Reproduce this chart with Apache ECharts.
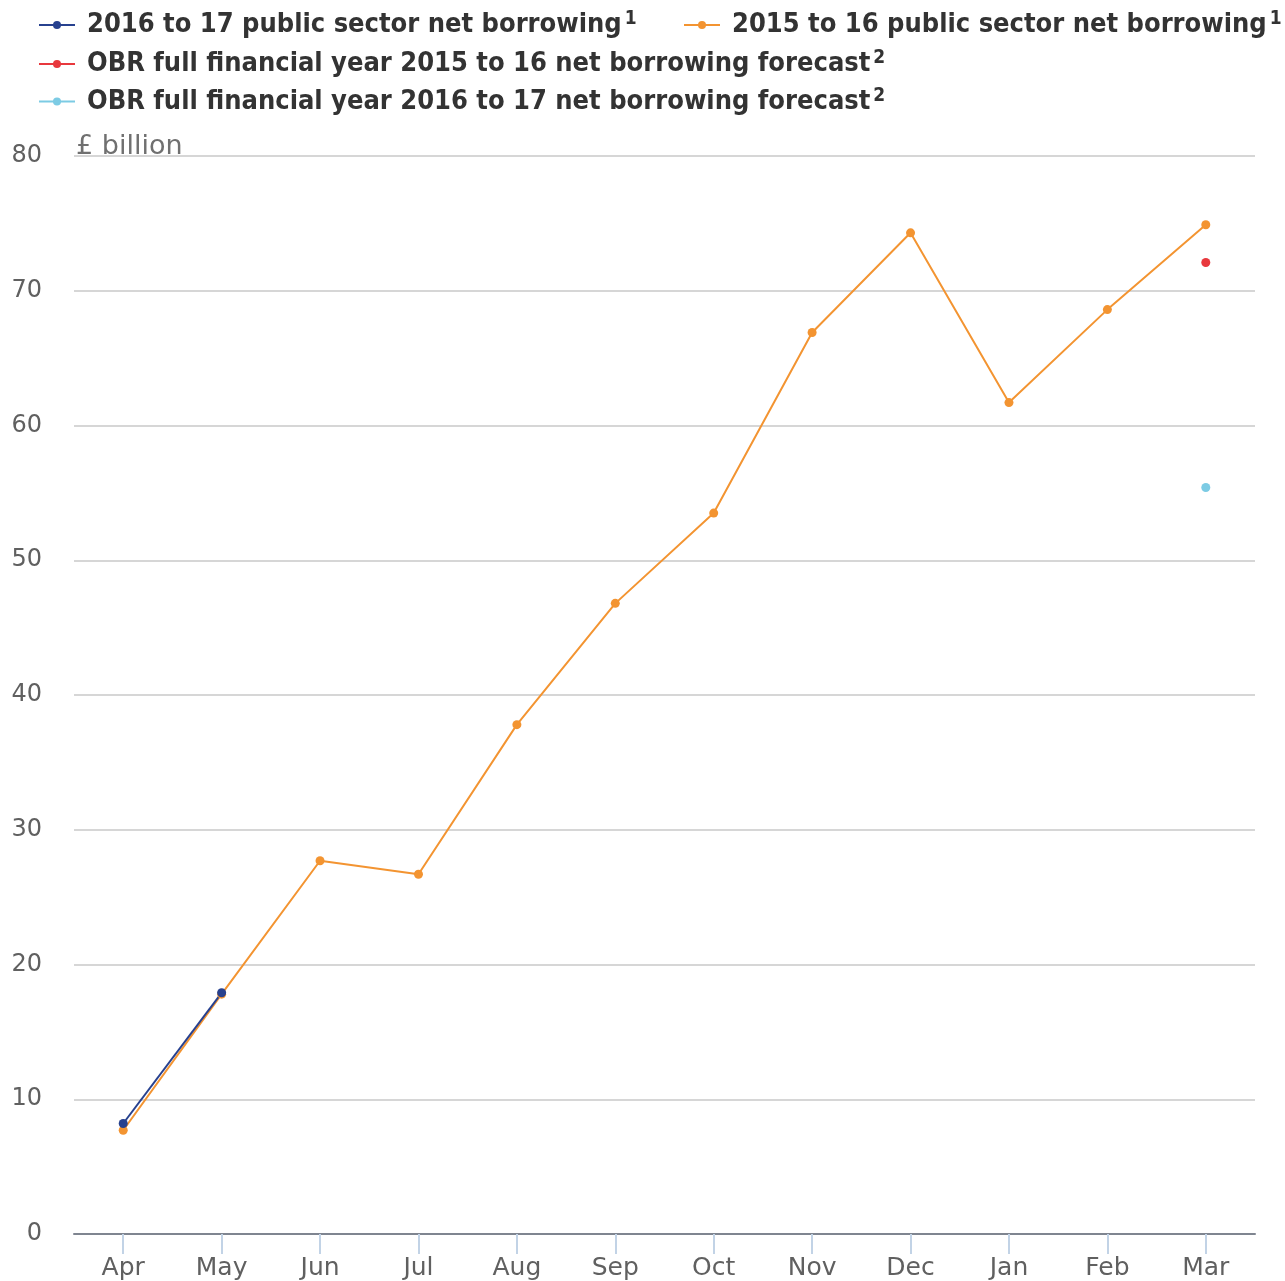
<!DOCTYPE html>
<html>
<head>
<meta charset="utf-8">
<script src="https://cdn.jsdelivr.net/npm/echarts@6/dist/echarts.min.js"></script>
<style>
  html, body { margin: 0; padding: 0; background: #fff; }
  #chart { width: 1285px; height: 1281px; }
</style>
</head>
<body>
<div id="chart"></div>
<script>
const months = ['Apr', 'May', 'Jun', 'Jul', 'Aug', 'Sep', 'Oct', 'Nov', 'Dec', 'Jan', 'Feb', 'Mar'];

// £ billion, cumulative
const borrowing1617 = [8.2, 17.9, null, null, null, null, null, null, null, null, null, null];
const borrowing1516 = [7.7, 17.8, 27.7, 26.7, 37.8, 46.8, 53.5, 66.9, 74.3, 61.7, 68.6, 74.9];
const obrForecast1516 = [null, null, null, null, null, null, null, null, null, null, null, 72.1];
const obrForecast1617 = [null, null, null, null, null, null, null, null, null, null, null, 55.4];

const names = [
  '2016 to 17 public sector net borrowing',
  '2015 to 16 public sector net borrowing',
  'OBR full financial year 2015 to 16 net borrowing forecast',
  'OBR full financial year 2016 to 17 net borrowing forecast'
];
const notes = { [names[0]]: '1', [names[1]]: '1', [names[2]]: '2', [names[3]]: '2' };
const colors = ['#27418f', '#f39431', '#e8383d', '#7ccbe4'];

const chart = echarts.init(document.getElementById('chart'));

function lineSeries(name, data, color) {
  return {
    name: name,
    type: 'line',
    data: data,
    color: color,
    symbol: 'circle',
    symbolSize: 9,
    showSymbol: true,
    lineStyle: { width: 2 },
    connectNulls: false
  };
}

// one legend block per position, so rows break like the original
function legendBlock(items, left, top) {
  return {
    data: items,
    left: left,
    top: top,
    orient: 'vertical',
    padding: 0,
    itemGap: 9,
    itemWidth: 36,
    itemHeight: 10,
    lineStyle: { width: 2 },
    formatter: (name) => `{t|${name}}{s|${notes[name]}}`,
    textStyle: {
      rich: {
        t: { fontFamily: 'DejaVu Sans Condensed', fontWeight: 'bold', fontSize: 27, color: '#333', lineHeight: 30, padding: [0, 0, 0, 7] },
        s: { fontFamily: 'DejaVu Sans Condensed', fontWeight: 'bold', fontSize: 19, color: '#333', verticalAlign: 'top', lineHeight: 16, padding: [0, 0, 0, 3] }
      }
    }
  };
}

chart.setOption({
  animation: false,
  textStyle: { fontFamily: 'DejaVu Sans' },
  legend: [
    legendBlock([names[0]], 38, 10),
    legendBlock([names[1]], 683, 10),
    legendBlock([names[2], names[3]], 38, 49)
  ],
  grid: { left: 74, right: 30, top: 156, bottom: 46 },
  xAxis: {
    type: 'category',
    data: months,
    boundaryGap: true,
    axisLine: { lineStyle: { color: '#7f8590', width: 2 } },
    axisTick: { show: true, alignWithLabel: true, length: 20, lineStyle: { color: '#c2d3e6', width: 2 } },
    axisLabel: { fontSize: 25, color: '#606060', margin: 22 }
  },
  yAxis: {
    type: 'value',
    min: 0,
    max: 80,
    interval: 10,
    name: '£ billion',
    nameLocation: 'end',
    nameGap: 0,
    nameTextStyle: { fontSize: 27, color: '#707070', align: 'left', verticalAlign: 'bottom', padding: [0, 0, -4, 2] },
    axisLine: { show: false },
    axisTick: { show: false },
    axisLabel: { fontSize: 24, color: '#606060', margin: 32, padding: [10, 0, 0, 0] },
    splitLine: { lineStyle: { color: '#d6d6d6', width: 2 } }
  },
  series: [
    lineSeries(names[1], borrowing1516, colors[1]),
    lineSeries(names[0], borrowing1617, colors[0]),
    lineSeries(names[2], obrForecast1516, colors[2]),
    lineSeries(names[3], obrForecast1617, colors[3])
  ]
});
</script>
</body>
</html>
